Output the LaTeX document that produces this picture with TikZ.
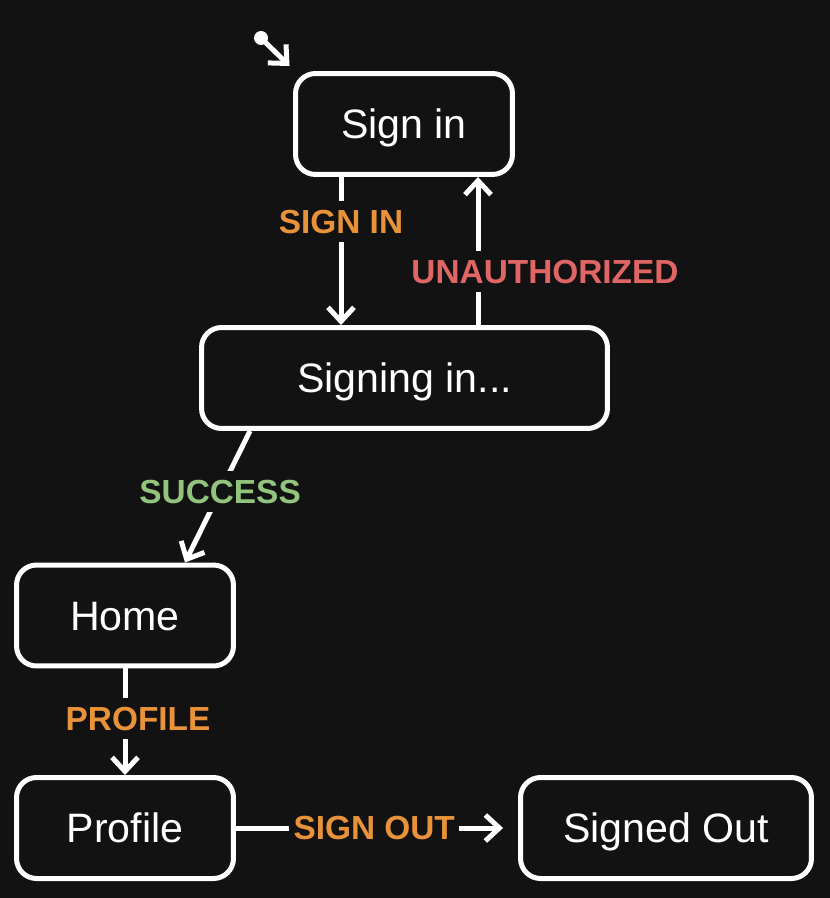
\documentclass[tikz,border=0pt]{standalone}
\usepackage{fontspec}
\setmainfont{Liberation Sans}
\usetikzlibrary{arrows.meta}
\definecolor{canvasbg}{RGB}{18,18,18}
\definecolor{labelorange}{RGB}{232,146,58}
\definecolor{labelred}{RGB}{224,102,102}
\definecolor{labelgreen}{RGB}{147,196,125}
\newcommand\statetextstyle{\fontsize{23.4}{28}\selectfont}
\newcommand\transtextstyle{\fontsize{19}{23}\selectfont\bfseries}
\newcommand\stateheight{2.02cm}
\newcommand\statewidth{4.34cm}
\tikzset{
  statebox/.style={draw=white, line width=0.1cm, rounded corners=0.4cm, fill=canvasbg,
    text=white, minimum height=\stateheight, minimum width=\statewidth, font=\statetextstyle,
    text height=16.6pt, text depth=0pt, inner sep=0pt},
  transition/.style={draw=white, line width=0.1cm, -{Straight Barb[length=0.28cm,width=0.52cm]}},
  translabel/.style={fill=canvasbg, inner xsep=2.3pt, inner ysep=5pt, font=\transtextstyle,
    text height=13.6pt, text depth=0pt},
}
\begin{document}
\begin{tikzpicture}[x=0.02cm, y=-0.02cm]
  \fill[canvasbg] (0,0) rectangle (830,898);
  \useasboundingbox (0,0) rectangle (830,898);
  % states
  \node[statebox] (signin) at (404,124) {Sign in};
  \node[statebox, minimum width=8.12cm] (signing) at (404.5,378) {Signing in...};
  \node[statebox] (home) at (125,615.5) {Home};
  \node[statebox] (profile) at (125,828) {Profile};
  \node[statebox, minimum width=5.82cm] (signedout) at (666,828) {Signed Out};
  % initial marker
  \coordinate (start) at (261,38);
  \fill[white] (start) circle (0.14cm);
  \draw[transition] (start) -- ([shift={(-0.07cm,0.1cm)}]signin.north west);
  % transitions
  \draw[transition] (signin.south -| 341,0) -- (signing.north -| 341,0)
    node[translabel, text=labelorange, pos=0.3] {SIGN IN};
  \draw[transition] (signing.north -| 478,0) -- (signin.south -| 478,0)
    node[translabel, text=labelred, pos=0.36, xshift=1.34cm] {UNAUTHORIZED};
  \draw[transition] (signing.south -| 250,0) -- (home.north -| 185,0)
    node[translabel, text=labelgreen, pos=0.46] {SUCCESS};
  \draw[transition] (home) -- (profile)
    node[translabel, text=labelorange, pos=0.47, xshift=0.26cm] {PROFILE};
  \draw[transition, shorten >=0.3cm] (profile) -- (signedout)
    node[translabel, text=labelorange, pos=0.49] {SIGN OUT};
\end{tikzpicture}
\end{document}
